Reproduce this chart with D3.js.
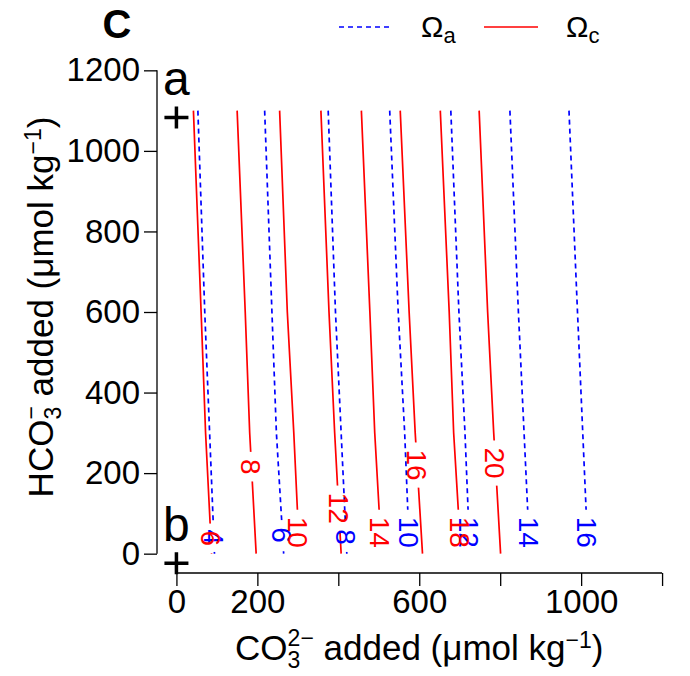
<!DOCTYPE html>
<html>
<head>
<meta charset="utf-8">
<script src="https://cdn.jsdelivr.net/npm/d3@7"></script>
<style>
  body { margin: 0; background: #fff; }
  svg { display: block; font-family: "Liberation Sans", Arial, Helvetica, sans-serif; }
</style>
</head>
<body>
<div id="wrapper"></div>
<script>
// HCO3- added levels at which each contour was read (umol/kg)
const hco3Levels = [1100, 600, 300, 0]

// calcite saturation contours (solid red): CO3 added at each hco3 level
const omegaCLevels = [6, 8, 10, 12, 14, 16, 18, 20]
const omegaCX = [
  [42, 61, 72, 87],
  [150, 170, 181, 197],
  [255, 274, 290, 304],
  [357, 377, 391, 407],
  [457, 478, 490, 507],
  [553, 575, 590, 608],
  [652, 674, 685, 703],
  [748, 769, 784, 801]
]
const omegaCLabelAt = [38, 216, 53, 113, 53, 220, 53, 225]

// aragonite saturation contours (dashed blue)
const omegaALevels = [4, 6, 8, 10, 12, 14, 16]
const omegaAX = [
  [53, 70, 82, 94],
  [218, 236, 247, 265],
  [375, 393, 407, 421],
  [527, 548, 564, 576],
  [678, 698, 713, 725],
  [824, 845, 859, 873],
  [970, 991, 1004, 1017]
]
const omegaALabelAt = [41, 46, 41, 53, 53, 53, 53]

const xTicks = [0, 200, 400, 600, 800, 1000, 1200]
const xTickLabels = ["0", "200", "", "600", "", "1000", ""]
const yTicks = [0, 200, 400, 600, 800, 1000, 1200]
const yTickLabels = ["0", "200", "400", "600", "800", "1000", "1200"]

const markerLabels = ["a", "b"]
const markerCO3 = [0, 0]
const markerHCO3 = [1083, -24]

let dimensions = {
  width: 690,
  height: 676,
  margin: { top: 51, right: 8.5, bottom: 103, left: 157 }
}
dimensions.boundedWidth = dimensions.width - dimensions.margin.left - dimensions.margin.right
dimensions.boundedHeight = dimensions.height - dimensions.margin.top - dimensions.margin.bottom

const wrapper = d3.select("#wrapper")
  .append("svg")
    .attr("width", dimensions.width)
    .attr("height", dimensions.height)

const bounds = wrapper.append("g")
    .attr("transform", `translate(${dimensions.margin.left},${dimensions.margin.top})`)

// R style 4% padding around 0..1200
const xScale = d3.scaleLinear()
    .domain([-48, 1248])
    .range([0, dimensions.boundedWidth])
const yScale = d3.scaleLinear()
    .domain([-48, 1248])
    .range([dimensions.boundedHeight, 0])

const lineGenerator = d3.line()
    .x(d => xScale(d[0]))
    .y(d => yScale(d[1]))

// position along a contour at a given hco3 value (for the label)
const xAtLevel = (xs, h) => {
  for (let i = 0; i < hco3Levels.length - 1; i++) {
    const h0 = hco3Levels[i], h1 = hco3Levels[i + 1]
    if (h <= h0 && h >= h1) {
      const t = (h0 - h) / (h0 - h1)
      return xs[i] + t * (xs[i + 1] - xs[i])
    }
  }
  return xs[xs.length - 1]
}

const series = [
  { id: "maskA", levels: omegaALevels, xs: omegaAX, labelAt: omegaALabelAt, color: "#0000ff", dash: "5,4" },
  { id: "maskC", levels: omegaCLevels, xs: omegaCX, labelAt: omegaCLabelAt, color: "#ff0000", dash: null }
]

const defs = wrapper.append("defs")
const linesGroup = bounds.append("g")
const labelsGroup = bounds.append("g")

series.forEach(s => {
  const mask = defs.append("mask")
      .attr("id", s.id)
      .attr("maskUnits", "userSpaceOnUse")
      .attr("x", -200).attr("y", -200)
      .attr("width", 1200).attr("height", 1200)
  mask.append("rect")
      .attr("x", -200).attr("y", -200)
      .attr("width", 1200).attr("height", 1200)
      .attr("fill", "white")

  s.levels.forEach((lev, i) => {
    const cx = xScale(xAtLevel(s.xs[i], s.labelAt[i]))
    const cy = yScale(s.labelAt[i])
    const label = labelsGroup.append("text")
        .attr("transform", `translate(${cx},${cy}) rotate(90)`)
        .attr("text-anchor", "middle")
        .attr("dy", "0.36em")
        .attr("fill", s.color)
        .style("font-size", "28px")
        .text(lev)
    const len = label.node().getComputedTextLength()
    mask.append("rect")
        .attr("x", cx - 12)
        .attr("y", cy - len / 2 - 7)
        .attr("width", 24)
        .attr("height", len + 14)
        .attr("fill", "black")
  })

  linesGroup.append("g")
      .attr("mask", `url(#${s.id})`)
    .selectAll("path")
    .data(s.xs)
    .enter().append("path")
      .attr("d", xs => lineGenerator(hco3Levels.map((h, j) => [xs[j], h])))
      .attr("fill", "none")
      .attr("stroke", s.color)
      .attr("stroke-width", 1.7)
      .attr("stroke-dasharray", s.dash)
})

// a / b markers
const markers = bounds.selectAll(".marker")
    .data(markerLabels)
  .enter().append("g")
    .attr("class", "marker")
    .attr("transform", (d, i) => `translate(${xScale(markerCO3[i])},${yScale(markerHCO3[i])})`)
markers.append("path")
    .attr("d", "M-12,0H12M0,-11V11")
    .attr("stroke", "black")
    .attr("stroke-width", 3.5)
markers.append("text")
    .attr("y", -22)
    .attr("text-anchor", "middle")
    .style("font-size", "48px")
    .text(d => d)

// axes
const xAxisGenerator = d3.axisBottom(xScale)
    .tickValues(xTicks)
    .tickFormat((d, i) => xTickLabels[i])
    .tickSizeInner(13)
    .tickSizeOuter(0)
    .tickPadding(4)
const xAxis = bounds.append("g")
    .attr("transform", `translate(0,${dimensions.boundedHeight})`)
    .call(xAxisGenerator)
xAxis.select(".domain").attr("d", `M${xScale(0)},0H${xScale(1200)}`)

const yAxisGenerator = d3.axisLeft(yScale)
    .tickValues(yTicks)
    .tickFormat((d, i) => yTickLabels[i])
    .tickSizeInner(13)
    .tickSizeOuter(0)
    .tickPadding(4)
const yAxis = bounds.append("g")
    .call(yAxisGenerator)
yAxis.select(".domain").attr("d", `M0,${yScale(0)}V${yScale(1200)}`)

wrapper.selectAll(".tick line, .domain")
    .attr("stroke", "black")
    .attr("stroke-width", 1.3)
wrapper.selectAll(".tick text")
    .attr("fill", "black")
    .style("font-size", "33px")
    .style("font-family", "inherit")

// axis titles
const subSup = (sel, base, sub, sup, size) => {
  sel.append("tspan").text(base)
  sel.append("tspan").attr("dy", 8).style("font-size", size + "px").text(sub)
  sel.append("tspan").attr("dx", -size * 0.556).attr("dy", -22).style("font-size", size + "px").text(sup)
  sel.append("tspan").attr("dy", 14).text(" added (\u03bcmol kg")
  sel.append("tspan").attr("dy", -12).style("font-size", size + "px").text("\u22121")
  sel.append("tspan").attr("dy", 12).text(")")
}

const xTitle = wrapper.append("text")
    .attr("x", dimensions.margin.left + dimensions.boundedWidth / 2)
    .attr("y", 660)
    .attr("text-anchor", "middle")
    .style("font-size", "35px")
subSup(xTitle, "CO", "3", "2\u2212", 23)

const yTitle = wrapper.append("text")
    .attr("transform", "translate(53,307) rotate(-90)")
    .attr("text-anchor", "middle")
    .style("font-size", "35px")
subSup(yTitle, "HCO", "3", "\u2212", 23)

// panel letter
wrapper.append("text")
    .attr("x", 117)
    .attr("y", 38)
    .attr("text-anchor", "middle")
    .style("font-size", "40px")
    .style("font-weight", "bold")
    .text("C")

// legend
const legendItems = [
  { sub: "a", color: "#0000ff", dash: "5,4", x: 339 },
  { sub: "c", color: "#ff0000", dash: null, x: 484 }
]
const legend = wrapper.selectAll(".legend")
    .data(legendItems)
  .enter().append("g")
    .attr("class", "legend")
    .attr("transform", d => `translate(${d.x},27)`)
legend.append("line")
    .attr("x1", 0).attr("x2", 54)
    .attr("stroke", d => d.color)
    .attr("stroke-width", 1.7)
    .attr("stroke-dasharray", d => d.dash)
const legendText = legend.append("text")
    .attr("x", 82)
    .attr("y", 10)
    .style("font-size", "30px")
legendText.append("tspan").text("\u03a9")
legendText.append("tspan")
    .attr("dy", 6)
    .style("font-size", "22px")
    .text(d => d.sub)
</script>
</body>
</html>
